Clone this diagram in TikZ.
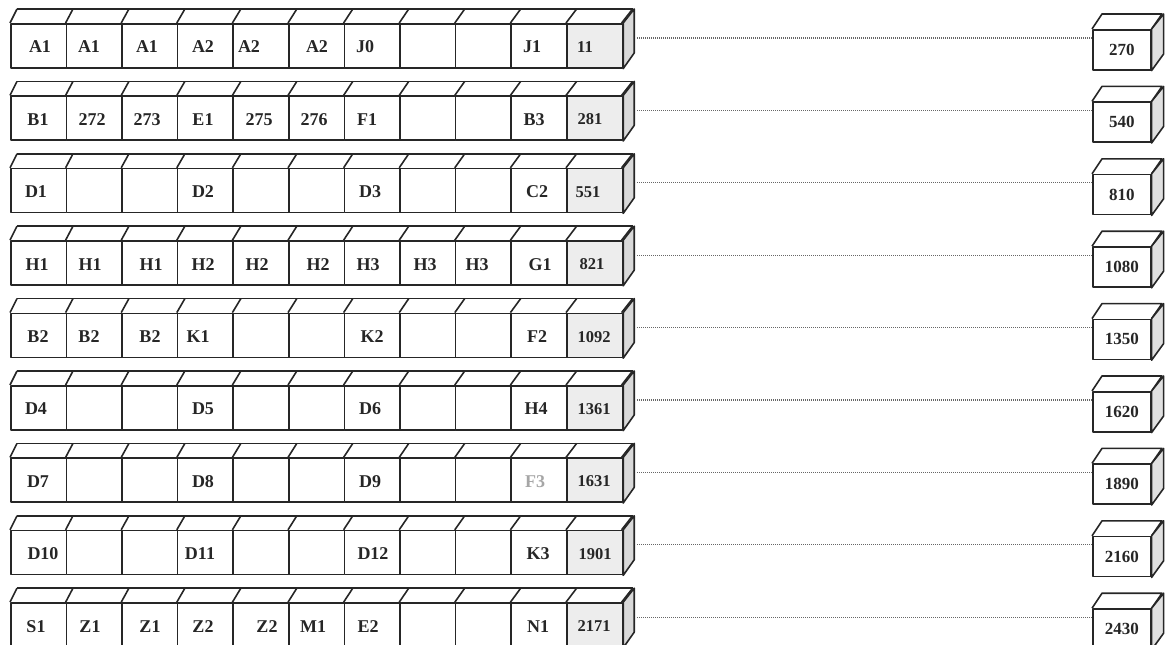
\documentclass[tikz,border=0pt]{standalone}
\usepackage{fontspec}
\setmainfont{Liberation Serif}
\begin{document}
\begin{tikzpicture}[x=1pt,y=-1pt,
  edge/.style={draw=black!85, line width=1.6pt, line join=round},
  front/.style={edge, fill=white, rectangle, inner sep=0pt, minimum width=55.6pt, minimum height=44pt, anchor=north west},
  lab/.style={font=\fontsize{18}{18}\selectfont\bfseries, text=black!85, inner sep=0pt},
  vlab/.style={font=\fontsize{16.5}{17}\selectfont\bfseries, text=black!85, inner sep=0pt},
  rlab/.style={font=\fontsize{17}{17}\selectfont\bfseries, text=black!85, inner sep=0pt},
  dots/.style={draw=black!60, line width=1.2pt, dash pattern=on 0.9pt off 1.1pt}]
\useasboundingbox (0,0) rectangle (1165,645);
\foreach \i in {1,...,9}{
  \pgfmathsetmacro\T{23+72.4*(\i-1)}
  \foreach \j in {0,...,9}{
    \pgfmathsetmacro\X{10+55.6*\j}
    \node[front] (c\i-\j) at (\X,\T) {};
  }
  \node[front, fill=black!7] (c\i-10) at (566,\T) {};
  \draw[edge] (17,\T-14) -- (633,\T-14);
  \foreach \j in {0,...,11}{
    \pgfmathsetmacro\X{10+55.6*\j}
    \pgfmathsetmacro\D{7+4*\j/11}
    \draw[edge] (\X,\T) -- (\X+\D,\T-14);
  }
  \draw[edge, fill=black!15] (c\i-10.north east) -- ++(11,-14) -- ++(0,44) -- (c\i-10.south east) -- cycle;
  % right cube
  \node[front, minimum width=58pt, minimum height=40pt] (r\i) at (1092,\T+6) {};
  \draw[edge] (r\i.north west) -- ++(10,-15) -- ++(60,0) -- (r\i.north east);
  \draw[edge, fill=black!12] (r\i.north east) -- ++(12,-15) -- ++(0,40) -- (r\i.south east) -- cycle;
  \coordinate (e\i) at (637,\T+15);
  \draw[dots] (e\i) -- (r\i.west |- e\i);
}
% labels
\foreach \i/\labs in {
 1/{40/A1,89/A1,147/A1,203/A2,249/A2,317/A2,365/J0,532/J1},
 2/{38/B1,92/272,147/273,203/E1,259/275,314/276,367/F1,534/B3},
 3/{36/D1,203/D2,370/D3,537/C2},
 4/{37/H1,90/H1,151/H1,203/H2,257/H2,318/H2,368/H3,425/H3,477/H3,540/G1},
 5/{38/B2,89/B2,150/B2,198/K1,372/K2,537/F2},
 6/{36/D4,203/D5,370/D6,536/H4},
 7/{38/D7,203/D8,370/D9},
 8/{43/D10,200/D11,373/D12,538/K3},
 9/{36/S1,90/Z1,150/Z1,203/Z2,267/Z2,313/M1,368/E2,538/N1}}{
  \pgfmathsetmacro\T{23+72.4*(\i-1)}
  \foreach \x/\t [count=\k] in \labs{
    \node[lab] (l\i-\k) at (\x,\T+24) {\t};
  }
}
\node[lab, text=black!35] (l7-4) at (535,23+72.4*6+24) {F3};
\foreach \i/\v/\x in {1/11/585,2/281/590,3/551/588,4/821/592,5/1092/594,6/1361/594,7/1631/594,8/1901/595,9/2171/594}{
  \pgfmathsetmacro\T{23+72.4*(\i-1)}
  \node[vlab] (v\i) at (\x,\T+24) {\v};
}
\foreach \i/\v in {1/270,2/540,3/810,4/1080,5/1350,6/1620,7/1890,8/2160,9/2430}{
  \node[rlab] (t\i) at (r\i.center) {\v};
}
\end{tikzpicture}
\end{document}
